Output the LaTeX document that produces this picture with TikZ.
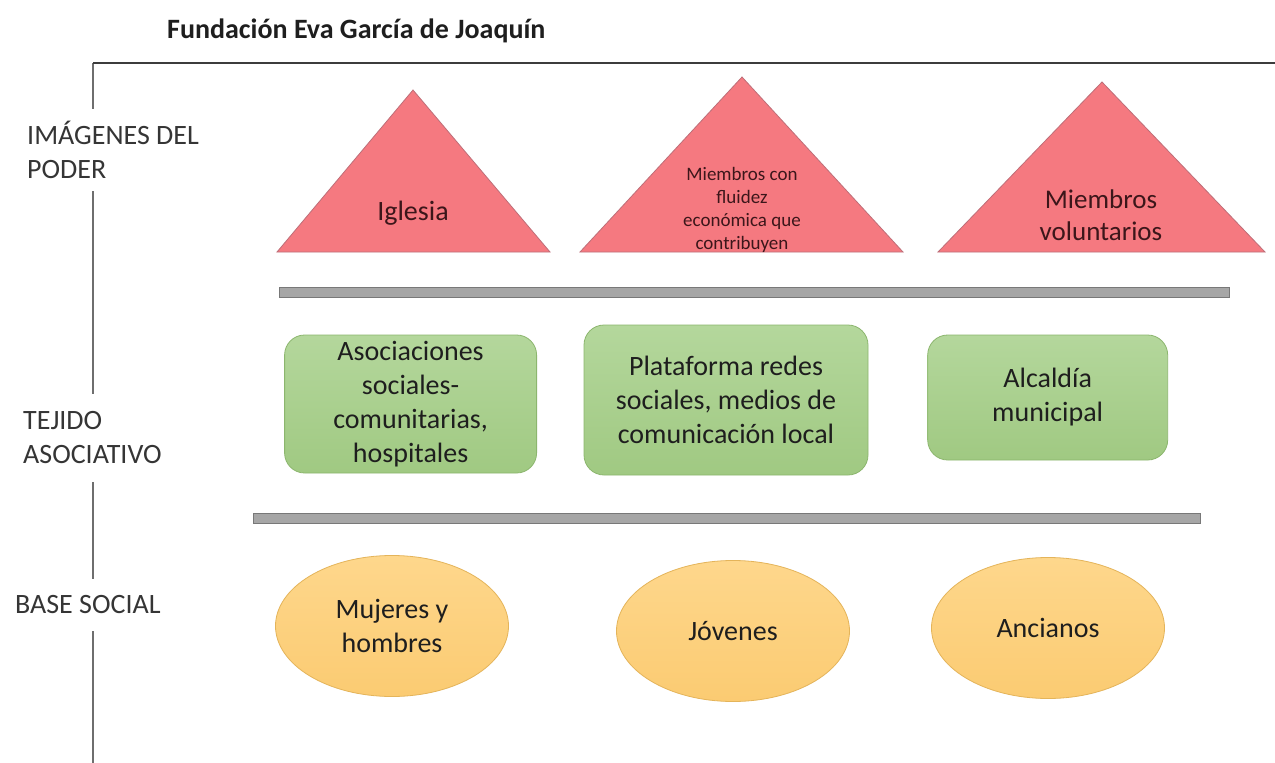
\documentclass[tikz,border=0pt]{standalone}
\usepackage{fontspec}
\setmainfont{Carlito}
\usetikzlibrary{shapes.geometric}
\definecolor{trifill}{RGB}{245,121,128}
\definecolor{tridraw}{RGB}{190,110,120}
\definecolor{tritext}{RGB}{60,22,26}
\definecolor{boxtop}{RGB}{180,215,156}
\definecolor{boxbot}{RGB}{160,201,130}
\definecolor{boxdraw}{RGB}{140,182,110}
\definecolor{elltop}{RGB}{254,215,140}
\definecolor{ellbot}{RGB}{251,203,114}
\definecolor{elldraw}{RGB}{228,180,90}
\definecolor{barfill}{RGB}{166,166,166}
\definecolor{bardraw}{RGB}{120,120,120}
\definecolor{axis}{RGB}{60,60,60}
\definecolor{axisv}{RGB}{110,110,110}
\definecolor{txt}{RGB}{30,30,30}
\tikzset{
  bigfont/.style={font=\fontsize{28}{34}\selectfont},
  triangleshape/.style={fill=trifill, draw=tridraw, line width=0.8pt, line join=miter},
  tritxt/.style={bigfont, text=tritext, align=center, inner sep=0pt},
  greenbox/.style={rectangle, rounded corners=20pt, top color=boxtop, bottom color=boxbot, draw=boxdraw, line width=0.8pt, bigfont, text=txt, align=center},
  yellowell/.style={ellipse, top color=elltop, bottom color=ellbot, draw=elldraw, line width=0.8pt, minimum width=233pt, minimum height=141pt, inner sep=0pt, bigfont, text=txt, align=center},
  graybar/.style={rectangle, fill=barfill, draw=bardraw, line width=0.8pt, minimum height=10pt, inner sep=0pt},
  sidelabel/.style={bigfont, text=txt!90, align=left, fill=white, anchor=west, inner xsep=6pt},
}
\begin{document}
\begin{tikzpicture}[x=1pt,y=-1pt]
\useasboundingbox (0,0) rectangle (1275,763);
\fill[white] (0,0) rectangle (1275,763);

% title
\node[anchor=west, font=\fontsize{28}{34}\selectfont\bfseries, text=txt, inner sep=0pt] (title) at (167,31) {Fundación Eva García de Joaquín};

% axes
\coordinate (axbottom) at (93,763);
\coordinate (axcorner) at (93,63);
\coordinate (axright) at (1275,63);
\draw[axisv, line width=1.6pt] (axbottom) -- (axcorner);
\draw[axis, line width=2.4pt] (axcorner) -- (axright);

% side labels
\node[sidelabel, inner ysep=12pt] (lpoder) at (21,150) {IMÁGENES DEL\\PODER};
\node[sidelabel, inner ysep=18pt] (ltejido) at (17,438) {TEJIDO\\ASOCIATIVO};
\node[sidelabel, inner ysep=17pt] (lbase) at (9,605) {BASE SOCIAL};

% triangles
\draw[triangleshape] (413,90) -- (550,252) -- (277,252) -- cycle;
\draw[triangleshape] (742,77) -- (903,252) -- (580,252) -- cycle;
\draw[triangleshape] (1102,82) -- (1265,252) -- (938,252) -- cycle;
\node[tritxt] (iglesia) at (413,213) {Iglesia};
\node[tritxt, font=\fontsize{19}{23}\selectfont] (fluidez) at (742,210) {Miembros con\\fluidez\\económica que\\contribuyen};
\node[tritxt, font=\fontsize{27}{32}\selectfont] (voluntarios) at (1101,215) {Miembros\\voluntarios};

% bars
\node[graybar, minimum width=950pt] (bar1) at (754,292) {};
\node[graybar, minimum width=947pt] (bar2) at (726.5,518) {};

% green boxes
\node[greenbox, minimum width=252pt, minimum height=138pt] (asoc) at (410.6,404) {Asociaciones\\sociales-\\comunitarias,\\hospitales};
\node[greenbox, minimum width=284pt, minimum height=150pt] (plat) at (726,400) {Plataforma redes\\sociales, medios de\\comunicación local};
\node[greenbox, minimum width=240pt, minimum height=125pt] (alc) at (1047.7,397.5) {Alcaldía\\municipal};

% ellipses
\node[yellowell] (mujeres) at (392,626) {Mujeres y\\hombres};
\node[yellowell] (jovenes) at (733,631) {Jóvenes};
\node[yellowell] (ancianos) at (1048,628) {Ancianos};
\end{tikzpicture}
\end{document}
